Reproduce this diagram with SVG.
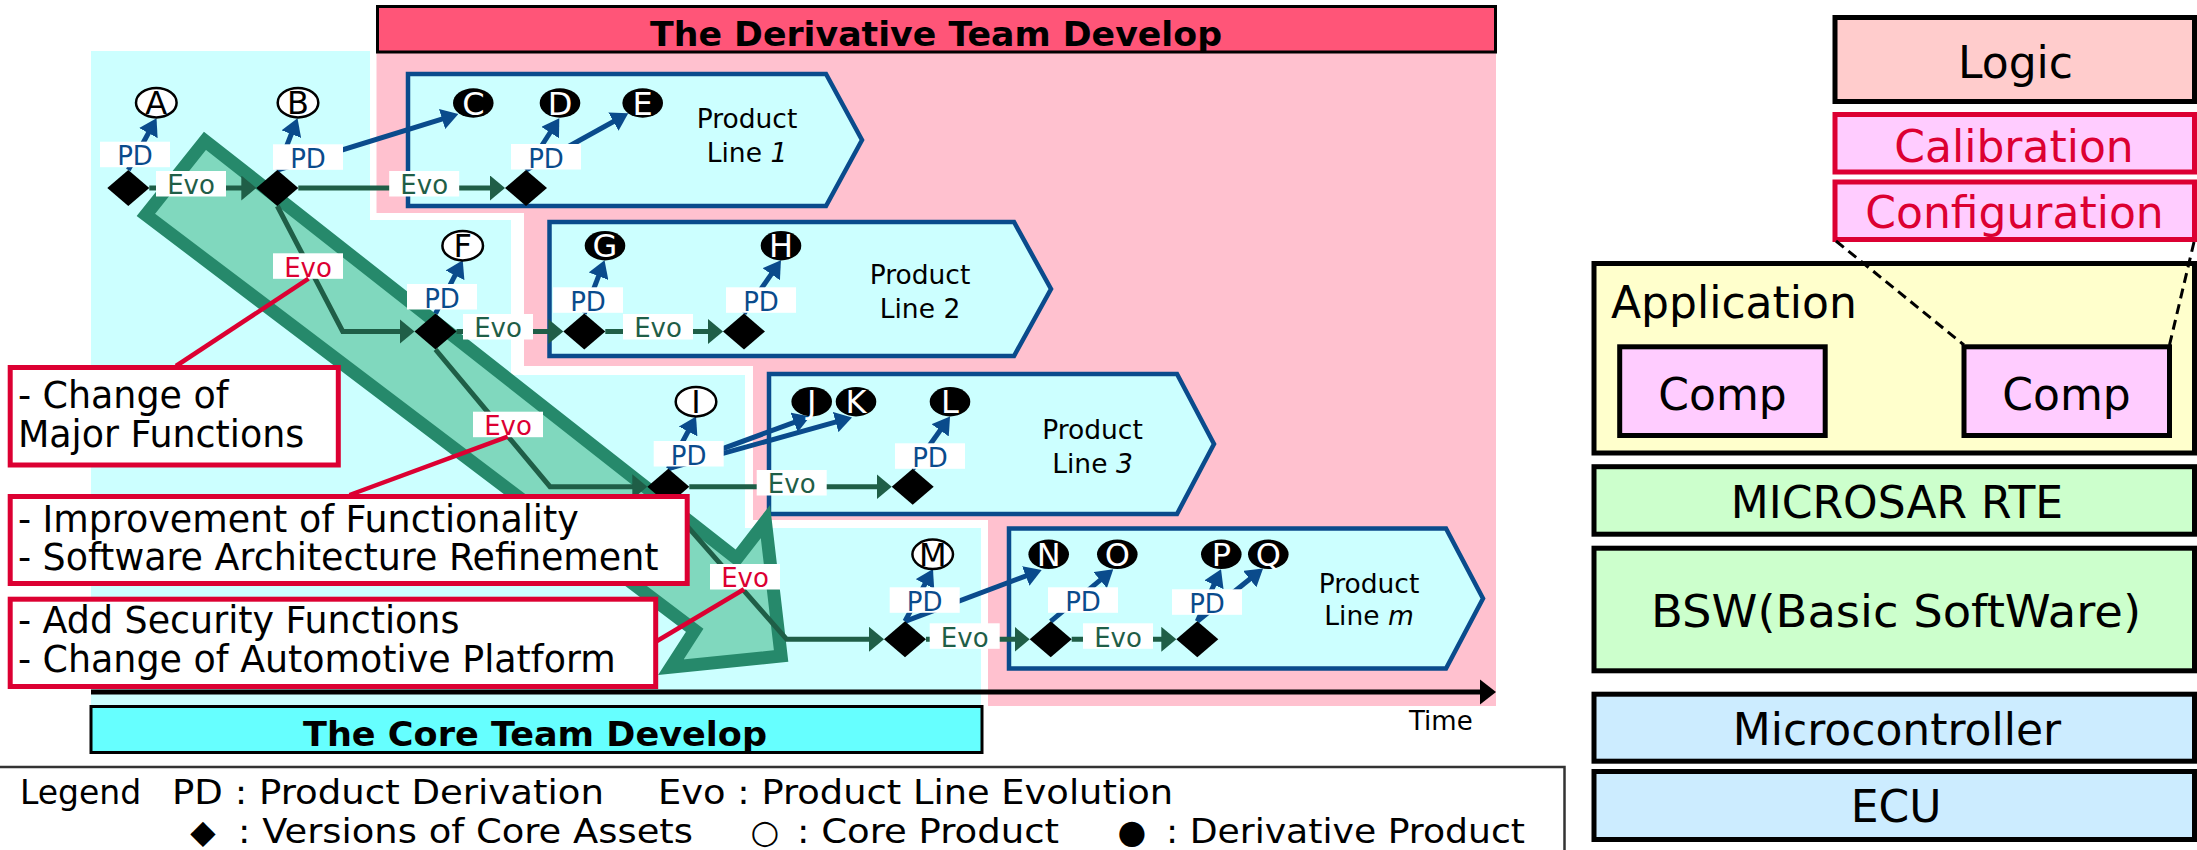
<svg xmlns="http://www.w3.org/2000/svg" xmlns:xlink="http://www.w3.org/1999/xlink" width="2197" height="850" viewBox="0 0 2197 850">
  <style>
    text { font-family: "DejaVu Sans", "Noto Sans", sans-serif; }
    .lbl { font-size: 26px; text-anchor: middle; }
    .pd-t { fill: #0A4B8C; }
    .evo-t { fill: #1F5E47; }
    .red-t { fill: #DC0032; }
    .tag { fill: #ffffff; }
    .core ellipse { fill: #ffffff; stroke: #000000; stroke-width: 2.5; }
    .core text { fill: #000000; }
    .deriv ellipse { fill: #000000; }
    .deriv text { fill: #ffffff; }
    .ltr { font-size: 32px; text-anchor: middle; }
    .pl { fill: #CCFFFF; stroke: #0A4B8C; stroke-width: 4.5; }
    .pl-t { font-size: 26.5px; text-anchor: middle; fill: #000000; }
    .evo-line { fill: none; stroke: #1F5E47; stroke-width: 5; marker-end: url(#evoHead); }
    .pd-line { fill: none; stroke: #0A4B8C; stroke-width: 5; marker-end: url(#pdHead); }
    .call { fill: #ffffff; stroke: #DC0032; stroke-width: 5; }
    .call-t { font-size: 36.4px; fill: #000000; }
    .call-line { stroke: #DC0032; stroke-width: 4.5; fill: none; }
    .layer { stroke: #000000; stroke-width: 5; }
    .layer-t { font-size: 44px; text-anchor: middle; fill: #000000; }
    .team-t { font-size: 34.5px; font-weight: bold; text-anchor: middle; fill: #000000; }
    .leg-t { font-size: 33px; fill: #000000; }
  </style>
  <defs>
    <marker id="pdHead" markerUnits="userSpaceOnUse" viewBox="0 0 17 21" markerWidth="17" markerHeight="21" refX="9" refY="10.5" orient="auto">
      <path d="M0,0 L17,10.5 L0,21 Z" fill="#0A4B8C"/>
    </marker>
    <marker id="evoHead" markerUnits="userSpaceOnUse" viewBox="0 0 15 25" markerWidth="15" markerHeight="25" refX="9" refY="12.5" orient="auto">
      <path d="M0,0 L15,12.5 L0,25 Z" fill="#1F5E47"/>
    </marker>
    <path id="dia" d="M-21,0 L0,-18 L21,0 L0,18 Z" fill="#000000"/>
    <rect id="tagBox" x="-35" y="0" width="70" height="25.5" class="tag"/>
  </defs>

  <rect x="0" y="0" width="2197" height="850" fill="#ffffff"/>

  <!-- team areas -->
  <g id="areas">
    <polygon points="376.5,52 1496,52 1496,706 988,706 988,520 753,520 753,366 524,366 524,213 376.5,213" fill="#FFC1CF"/>
    <polygon points="91,51 370,51 370,220 511,220 511,375 745,375 745,528 981,528 981,706 91,706" fill="#CCFFFF"/>
  </g>

  <g id="derivative-team">
    <rect x="377.5" y="6.5" width="1118" height="45.5" fill="#FF5578" stroke="#000000" stroke-width="3"/>
    <text class="team-t" x="936" y="45.7" textLength="572" lengthAdjust="spacingAndGlyphs">The Derivative Team Develop</text>
  </g>

  <g id="core-team">
    <rect x="91" y="706.5" width="891" height="46" fill="#66FFFF" stroke="#000000" stroke-width="3"/>
    <text class="team-t" x="535" y="746" textLength="464" lengthAdjust="spacingAndGlyphs">The Core Team Develop</text>
  </g>

  <!-- product line boxes -->
  <g id="product-line-1">
    <polygon class="pl" points="408,74 826,74 862,140 826,206 408,206"/>
    <text class="pl-t" x="747" y="128.3">Product<tspan x="747" dy="33.4">Line <tspan font-style="italic">1</tspan></tspan></text>
  </g>
  <g id="product-line-2">
    <polygon class="pl" points="549.5,222 1014,222 1051,289 1014,356 549.5,356"/>
    <text class="pl-t" x="920" y="284">Product<tspan x="920" dy="34.3">Line 2</tspan></text>
  </g>
  <g id="product-line-3">
    <polygon class="pl" points="769,374 1177,374 1214,444 1177,514 769,514"/>
    <text class="pl-t" x="1092.5" y="439.3">Product<tspan x="1092.5" dy="33.4">Line <tspan font-style="italic">3</tspan></tspan></text>
  </g>
  <g id="product-line-m">
    <polygon class="pl" points="1009,528.5 1446,528.5 1483,598.5 1446,668.5 1009,668.5"/>
    <text class="pl-t" x="1369" y="592.7">Product<tspan x="1369" dy="32.3">Line <tspan font-style="italic">m</tspan></tspan></text>
  </g>

  <!-- evolution of the core assets -->
  <g id="core-evolution-band">
    <polygon points="205,140.8 736.7,558.7 765.4,521.6 781.1,656 670.9,667.1 694.7,630.4 145.9,214.9" fill="#80D8BE" stroke="#26896B" stroke-width="13" stroke-linejoin="miter"/>
  </g>

  <g id="connectors">
    <!-- Evo lines -->
    <path class="evo-line" d="M149.3,188 H250.3"/>
    <path class="evo-line" d="M298.3,188 H499"/>
    <path class="evo-line" d="M277.3,206 L342.7,331.5 H408.5"/>
    <path class="evo-line" d="M456.5,331.5 H557.3"/>
    <path class="evo-line" d="M605.3,331.5 H717"/>
    <path class="evo-line" d="M435.5,349.5 L550,486.7 H641.3"/>
    <path class="evo-line" d="M689.3,486.7 H885.7"/>
    <path class="evo-line" d="M668.3,504.7 L786.7,639.3 H878"/>
    <path class="evo-line" d="M926,639.3 H1023.7"/>
    <path class="evo-line" d="M1071.7,639.3 H1170.3"/>
    <!-- PD arrows -->
    <path class="pd-line" d="M128.3,170 L152.7,125.2"/>
    <path class="pd-line" d="M277.3,170 L294.6,125.7"/>
    <path class="pd-line" d="M277.3,170 L450.7,116.4"/>
    <path class="pd-line" d="M526,170 L555,125"/>
    <path class="pd-line" d="M526,170 L621.3,117.2"/>
    <path class="pd-line" d="M435.5,313.7 L459.1,267.3"/>
    <path class="pd-line" d="M584.3,313.7 L601.7,267.8"/>
    <path class="pd-line" d="M744,313.7 L776.4,266.8"/>
    <path class="pd-line" d="M668.3,468.7 L692.3,423.5"/>
    <path class="pd-line" d="M668.3,468.7 L802.5,419.3"/>
    <path class="pd-line" d="M668.3,468.7 L844.3,419.6"/>
    <path class="pd-line" d="M912.7,469 L945.4,423"/>
    <path class="pd-line" d="M905,621.3 L929.2,576.1"/>
    <path class="pd-line" d="M905,621.3 L1034.2,572.8"/>
    <path class="pd-line" d="M1050.7,621.3 L1107.1,574.4"/>
    <path class="pd-line" d="M1197.3,621.3 L1217.7,576.6"/>
    <path class="pd-line" d="M1197.3,621.3 L1256.8,573.5"/>
  </g>

  <!-- connector labels -->
  <g id="pd-labels">
    <use href="#tagBox" x="135" y="141.7"/><text class="lbl pd-t" x="135" y="165.2">PD</text>
    <use href="#tagBox" x="308" y="144.3"/><text class="lbl pd-t" x="308" y="167.8">PD</text>
    <use href="#tagBox" x="546" y="144"/><text class="lbl pd-t" x="546" y="167.5">PD</text>
    <use href="#tagBox" x="442" y="284"/><text class="lbl pd-t" x="442" y="307.5">PD</text>
    <use href="#tagBox" x="588" y="287.3"/><text class="lbl pd-t" x="588" y="310.8">PD</text>
    <use href="#tagBox" x="761" y="287.3"/><text class="lbl pd-t" x="761" y="310.8">PD</text>
    <use href="#tagBox" x="688.7" y="441"/><text class="lbl pd-t" x="688.7" y="464.5">PD</text>
    <use href="#tagBox" x="930" y="443.3"/><text class="lbl pd-t" x="930" y="466.8">PD</text>
    <use href="#tagBox" x="924.7" y="587.3"/><text class="lbl pd-t" x="924.7" y="610.8">PD</text>
    <use href="#tagBox" x="1083" y="587.3"/><text class="lbl pd-t" x="1083" y="610.8">PD</text>
    <use href="#tagBox" x="1207" y="589.3"/><text class="lbl pd-t" x="1207" y="612.8">PD</text>
  </g>
  <g id="evo-labels">
    <use href="#tagBox" x="191" y="171"/><text class="lbl evo-t" x="191" y="194.3">Evo</text>
    <use href="#tagBox" x="424.2" y="171"/><text class="lbl evo-t" x="424.2" y="194.3">Evo</text>
    <use href="#tagBox" x="498" y="314"/><text class="lbl evo-t" x="498" y="337.3">Evo</text>
    <use href="#tagBox" x="658" y="314"/><text class="lbl evo-t" x="658" y="337.3">Evo</text>
    <use href="#tagBox" x="791.7" y="470"/><text class="lbl evo-t" x="791.7" y="493.3">Evo</text>
    <use href="#tagBox" x="964.7" y="623.3"/><text class="lbl evo-t" x="964.7" y="646.6">Evo</text>
    <use href="#tagBox" x="1118" y="623.3"/><text class="lbl evo-t" x="1118" y="646.6">Evo</text>
    <use href="#tagBox" x="308" y="253.3"/><text class="lbl red-t" x="308" y="276.6">Evo</text>
    <use href="#tagBox" x="508" y="411.7"/><text class="lbl red-t" x="508" y="435">Evo</text>
    <use href="#tagBox" x="745" y="564"/><text class="lbl red-t" x="745" y="587.3">Evo</text>
  </g>

  <!-- versions of core assets -->
  <g id="asset-versions">
    <use id="v1" href="#dia" x="128.3" y="188"/>
    <use id="v2" href="#dia" x="277.3" y="188"/>
    <use id="v3" href="#dia" x="526" y="188"/>
    <use id="v4" href="#dia" x="435.5" y="331.5"/>
    <use id="v5" href="#dia" x="584.3" y="331.5"/>
    <use id="v6" href="#dia" x="744" y="331.5"/>
    <use id="v7" href="#dia" x="668.3" y="486.7"/>
    <use id="v8" href="#dia" x="912.7" y="486.7"/>
    <use id="v9" href="#dia" x="905" y="639.3"/>
    <use id="v10" href="#dia" x="1050.7" y="639.3"/>
    <use id="v11" href="#dia" x="1197.3" y="639.3"/>
  </g>

  <!-- products -->
  <g id="product-A" class="core"><ellipse cx="156.3" cy="102.7" rx="20.3" ry="14.7"/><text class="ltr" x="156.3" y="114.3">A</text></g>
  <g id="product-B" class="core"><ellipse cx="298" cy="102.7" rx="20.3" ry="14.7"/><text class="ltr" x="298" y="114.3">B</text></g>
  <g id="product-C" class="deriv"><ellipse cx="473.3" cy="103" rx="20.3" ry="14.7"/><text class="ltr" x="473.3" y="114.6">C</text></g>
  <g id="product-D" class="deriv"><ellipse cx="560" cy="103" rx="20.3" ry="14.7"/><text class="ltr" x="560" y="114.6">D</text></g>
  <g id="product-E" class="deriv"><ellipse cx="642.7" cy="103" rx="20.3" ry="14.7"/><text class="ltr" x="642.7" y="114.6">E</text></g>
  <g id="product-F" class="core"><ellipse cx="462.7" cy="245.7" rx="20.3" ry="14.7"/><text class="ltr" x="462.7" y="257.3">F</text></g>
  <g id="product-G" class="deriv"><ellipse cx="605" cy="245.7" rx="20.3" ry="14.7"/><text class="ltr" x="605" y="257.3">G</text></g>
  <g id="product-H" class="deriv"><ellipse cx="781" cy="245.7" rx="20.3" ry="14.7"/><text class="ltr" x="781" y="257.3">H</text></g>
  <g id="product-I" class="core"><ellipse cx="696" cy="401.7" rx="20.3" ry="14.7"/><text class="ltr" x="696" y="413.3">I</text></g>
  <g id="product-J" class="deriv"><ellipse cx="811.7" cy="401.7" rx="20.3" ry="14.7"/><text class="ltr" x="811.7" y="413.3">J</text></g>
  <g id="product-K" class="deriv"><ellipse cx="856" cy="401.7" rx="20.3" ry="14.7"/><text class="ltr" x="856" y="413.3">K</text></g>
  <g id="product-L" class="deriv"><ellipse cx="950" cy="401.7" rx="20.3" ry="14.7"/><text class="ltr" x="950" y="413.3">L</text></g>
  <g id="product-M" class="core"><ellipse cx="932.7" cy="554.3" rx="20.3" ry="14.7"/><text class="ltr" x="932.7" y="565.9">M</text></g>
  <g id="product-N" class="deriv"><ellipse cx="1048.7" cy="554.3" rx="20.3" ry="14.7"/><text class="ltr" x="1048.7" y="565.9">N</text></g>
  <g id="product-O" class="deriv"><ellipse cx="1117.3" cy="554.3" rx="20.3" ry="14.7"/><text class="ltr" x="1117.3" y="565.9">O</text></g>
  <g id="product-P" class="deriv"><ellipse cx="1221.3" cy="554.3" rx="20.3" ry="14.7"/><text class="ltr" x="1221.3" y="565.9">P</text></g>
  <g id="product-Q" class="deriv"><ellipse cx="1268.3" cy="554.3" rx="20.3" ry="14.7"/><text class="ltr" x="1268.3" y="565.9">Q</text></g>

  <!-- callouts -->
  <g id="callout-lines">
    <path class="call-line" d="M308.5,278.7 L176,366"/>
    <path class="call-line" d="M507.7,436.7 L349.5,495"/>
    <path class="call-line" d="M744,589.3 L657,641"/>
  </g>
  <g id="callout-major">
    <rect class="call" x="10.2" y="367.5" width="328.1" height="97.5"/>
    <text class="call-t" x="17.9" y="408.3">- Change of<tspan x="17.9" dy="38.4">Major Functions</tspan></text>
  </g>
  <g id="callout-improvement">
    <rect class="call" x="10.2" y="496.5" width="677" height="87"/>
    <text class="call-t" x="17.9" y="531.7">- Improvement of Functionality<tspan x="17.9" dy="38.3">- Software Architecture Refinement</tspan></text>
  </g>
  <g id="callout-security">
    <rect class="call" x="10.2" y="599.2" width="645.5" height="87.3"/>
    <text class="call-t" x="17.9" y="633.3">- Add Security Functions<tspan x="17.9" dy="38.4">- Change of Automotive Platform</tspan></text>
  </g>

  <!-- time axis -->
  <g id="time-axis">
    <line x1="91" y1="692" x2="1484" y2="692" stroke="#000000" stroke-width="5"/>
    <polygon points="1480,679.5 1496,692 1480,704.5" fill="#000000"/>
    <text x="1409" y="730" font-size="26" fill="#000000">Time</text>
  </g>

  <!-- legend -->
  <g id="legend">
    <rect x="-3" y="767" width="1567.5" height="90" fill="none" stroke="#333333" stroke-width="2.5"/>
    <text class="leg-t" x="20" y="804">Legend</text>
    <text class="leg-t" x="172" y="804" textLength="432" lengthAdjust="spacingAndGlyphs">PD : Product Derivation</text>
    <text class="leg-t" x="658" y="804" textLength="515" lengthAdjust="spacingAndGlyphs">Evo : Product Line Evolution</text>
    <text class="leg-t" x="203" y="843" text-anchor="middle">◆</text>
    <text class="leg-t" x="238" y="843" textLength="455" lengthAdjust="spacingAndGlyphs">: Versions of Core Assets</text>
    <text class="leg-t" x="765" y="843" text-anchor="middle">○</text>
    <text class="leg-t" x="797" y="843" textLength="262" lengthAdjust="spacingAndGlyphs">: Core Product</text>
    <text class="leg-t" x="1132" y="843" text-anchor="middle">●</text>
    <text class="leg-t" x="1166" y="843" textLength="359" lengthAdjust="spacingAndGlyphs">: Derivative Product</text>
  </g>

  <!-- software stack -->
  <g id="stack-logic">
    <rect class="layer" x="1835" y="17.5" width="359.5" height="84" fill="#FFCCCC"/>
    <text class="layer-t" x="2015.5" y="78">Logic</text>
  </g>
  <g id="stack-calibration">
    <rect x="1835" y="114.5" width="359.5" height="57.5" fill="#FFCCFF" stroke="#DC0032" stroke-width="5"/>
    <text class="layer-t" x="2014" y="162" style="fill:#DC0032">Calibration</text>
  </g>
  <g id="stack-configuration">
    <rect x="1835" y="182" width="359.5" height="57.5" fill="#FFCCFF" stroke="#DC0032" stroke-width="5"/>
    <text class="layer-t" x="2014.5" y="228" style="fill:#DC0032">Configuration</text>
  </g>
  <g id="stack-application">
    <rect class="layer" x="1594" y="263.5" width="600.5" height="189.5" fill="#FFFFCC"/>
    <text x="1611" y="318" font-size="44" fill="#000000">Application</text>
  </g>
  <g id="comp-1">
    <rect class="layer" x="1619.7" y="346.8" width="205.5" height="88.7" fill="#FFCCFF"/>
    <text class="layer-t" x="1722.5" y="410">Comp</text>
  </g>
  <g id="comp-2">
    <rect class="layer" x="1964" y="346.8" width="205.5" height="88.7" fill="#FFCCFF"/>
    <text class="layer-t" x="2066.5" y="410">Comp</text>
  </g>
  <g id="stack-links">
    <line x1="1836" y1="241" x2="1964" y2="345" stroke="#000000" stroke-width="3" stroke-dasharray="10 6"/>
    <line x1="2194" y1="242" x2="2169.5" y2="345" stroke="#000000" stroke-width="3" stroke-dasharray="10 6"/>
  </g>
  <g id="stack-rte">
    <rect class="layer" x="1594" y="466.7" width="600.5" height="67.5" fill="#CCFFCC"/>
    <text class="layer-t" x="1897" y="518">MICROSAR RTE</text>
  </g>
  <g id="stack-bsw">
    <rect class="layer" x="1594" y="548.2" width="600.5" height="122.6" fill="#CCFFCC"/>
    <text class="layer-t" x="1896" y="627" textLength="490" lengthAdjust="spacingAndGlyphs">BSW(Basic SoftWare)</text>
  </g>
  <g id="stack-micro">
    <rect class="layer" x="1594" y="694.2" width="600.5" height="67" fill="#CCECFF"/>
    <text class="layer-t" x="1897" y="745">Microcontroller</text>
  </g>
  <g id="stack-ecu">
    <rect class="layer" x="1594" y="771.5" width="600.5" height="68" fill="#CCECFF"/>
    <text class="layer-t" x="1896" y="822">ECU</text>
  </g>
</svg>
